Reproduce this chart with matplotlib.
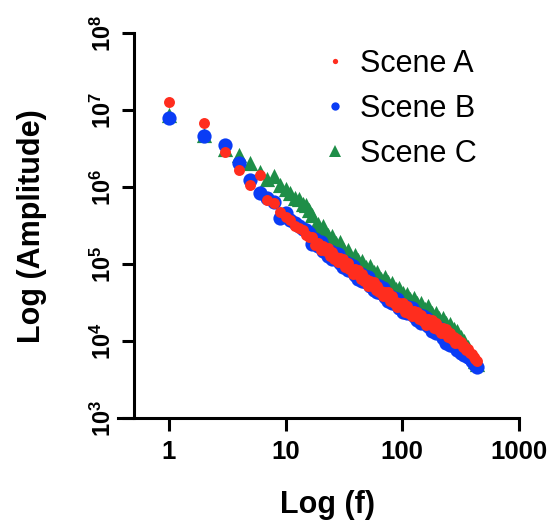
import matplotlib
matplotlib.use('Agg')
import matplotlib.pyplot as plt
from matplotlib.lines import Line2D
import numpy as np

# frequency (Hz) and log10(amplitude)
freq = [1, 2, 3, 4, 5, 6, 7, 8, 9, 10, 11, 12, 13, 14, 15, 16,
        17, 18, 19, 20, 21, 22, 23, 24, 25, 26, 27, 28, 29, 30, 31, 32,
        34, 35, 36, 38, 39, 41, 42, 44, 45, 47, 49, 51, 53, 55, 57, 59, 61, 63,
        66, 68, 71, 73, 76, 79, 82, 85, 88, 91, 94, 98, 101, 105, 109, 113, 117, 121,
        126, 130, 135, 140, 145, 150, 156, 161, 167, 173, 180, 186, 193, 200,
        207, 215, 222, 230, 239, 247, 256, 266, 275, 285, 296, 306, 318, 329,
        341, 353, 366, 380, 394, 408, 423, 438]

scene_a = [7.10, 6.83, 6.45, 6.22, 6.03, 6.16, 5.83, 5.79, 5.68, 5.61, 5.57, 5.50, 5.47, 5.44, 5.38, 5.35,
           5.35, 5.25, 5.27, 5.18, 5.24, 5.17, 5.21, 5.10, 5.16, 5.07, 5.09, 5.02, 5.08, 5.02, 5.07, 4.96,
           5.01, 4.93, 4.95, 4.87, 4.93, 4.87, 4.92, 4.80, 4.87, 4.78, 4.80, 4.72, 4.78, 4.72, 4.77, 4.66, 4.72, 4.64,
           4.65, 4.58, 4.64, 4.58, 4.63, 4.52, 4.58, 4.49, 4.51, 4.44, 4.50, 4.44, 4.49, 4.38, 4.45, 4.37, 4.39, 4.32,
           4.39, 4.33, 4.38, 4.28, 4.34, 4.26, 4.29, 4.21, 4.28, 4.23, 4.27, 4.17, 4.24, 4.15,
           4.18, 4.10, 4.17, 4.11, 4.15, 4.05, 4.11, 4.02, 4.05, 3.97, 4.03, 3.97, 3.99, 3.92,
           3.94, 3.88, 3.89, 3.84, 3.83, 3.79, 3.77, 3.74]

scene_b = [6.90, 6.66, 6.55, 6.31, 6.09, 5.92, 5.86, 5.80, 5.60, 5.66, 5.57, 5.53, 5.49, 5.46, 5.44, 5.40,
           5.26, 5.32, 5.24, 5.29, 5.17, 5.20, 5.10, 5.17, 5.07, 5.14, 5.06, 5.13, 5.01, 5.05, 4.96, 5.03,
           4.92, 5.00, 4.92, 4.98, 4.86, 4.90, 4.81, 4.87, 4.78, 4.85, 4.77, 4.83, 4.71, 4.75, 4.66, 4.73, 4.63, 4.71,
           4.62, 4.69, 4.57, 4.61, 4.52, 4.59, 4.49, 4.56, 4.48, 4.55, 4.43, 4.47, 4.38, 4.45, 4.36, 4.44, 4.36, 4.43,
           4.32, 4.36, 4.27, 4.34, 4.24, 4.32, 4.24, 4.30, 4.19, 4.23, 4.13, 4.21, 4.11, 4.18,
           4.11, 4.16, 4.04, 4.08, 3.98, 4.05, 3.95, 4.02, 3.94, 3.99, 3.88, 3.92, 3.85, 3.88,
           3.82, 3.84, 3.79, 3.78, 3.74, 3.72, 3.69, 3.66]

scene_c = [6.93, 6.68, 6.50, 6.42, 6.31, 6.20, 6.10, 6.14, 6.02, 5.97, 5.92, 5.86, 5.85, 5.78, 5.76, 5.70,
           5.63, 5.49, 5.52, 5.39, 5.49, 5.36, 5.38, 5.27, 5.36, 5.23, 5.27, 5.17, 5.28, 5.16, 5.20, 5.10,
           5.18, 5.07, 5.11, 5.01, 5.12, 5.01, 5.05, 4.94, 5.04, 4.92, 4.96, 4.86, 4.97, 4.86, 4.90, 4.80, 4.89, 4.78,
           4.81, 4.72, 4.83, 4.72, 4.76, 4.66, 4.75, 4.63, 4.67, 4.58, 4.69, 4.58, 4.62, 4.52, 4.61, 4.50, 4.54, 4.45,
           4.56, 4.46, 4.49, 4.40, 4.49, 4.38, 4.42, 4.33, 4.45, 4.34, 4.37, 4.28, 4.37, 4.26,
           4.30, 4.20, 4.30, 4.20, 4.23, 4.14, 4.22, 4.12, 4.15, 4.07, 4.13, 4.04, 4.05, 3.98,
           4.00, 3.93, 3.92, 3.86, 3.82, 3.78, 3.74, 3.70]

series_names = ['Scene A', 'Scene B', 'Scene C']
x_ticks = [1, 10, 100, 1000]
x_labels = ['1', '10', '100', '1000']
y_ticks = [1e3, 1e4, 1e5, 1e6, 1e7, 1e8]
y_labels = [r'$\mathbf{10^{3}}$', r'$\mathbf{10^{4}}$', r'$\mathbf{10^{5}}$',
            r'$\mathbf{10^{6}}$', r'$\mathbf{10^{7}}$', r'$\mathbf{10^{8}}$']

red = '#ff2d1e'
blue = '#0a3cf5'
green = '#1e8e48'

plt.rcParams['font.family'] = ['Liberation Sans', 'DejaVu Sans']
plt.rcParams['mathtext.fontset'] = 'custom'
plt.rcParams['mathtext.rm'] = 'Liberation Sans:bold'
plt.rcParams['mathtext.bf'] = 'Liberation Sans:bold'

fig = plt.figure(figsize=(5.55, 5.24), dpi=100)
ax = fig.add_axes([118/555, 106/524, 401/555, 385/524])

f = np.array(freq)
ax.scatter(f, 10**np.array(scene_c), marker='^', s=120, color=green, linewidths=0, zorder=2)
ax.scatter(f, 10**np.array(scene_b), marker='o', s=105, color=blue, linewidths=0, zorder=3)
ax.scatter(f, 10**np.array(scene_a), marker='o', s=62, color=red, linewidths=0, zorder=4)

# spine placement first, it resets the tick setup
for s in ['top', 'right']:
    ax.spines[s].set_visible(False)
ax.spines['left'].set_position(('data', 0.5))
ax.spines['left'].set_linewidth(2.2)
ax.spines['bottom'].set_linewidth(2.2)

ax.set_xscale('log')
ax.set_yscale('log')
ax.set_xlim(0.367, 1000)
ax.set_ylim(1e3, 1e8)
ax.set_xticks(x_ticks)
ax.set_xticklabels(x_labels, fontsize=18.5, fontweight='bold')
ax.set_yticks(y_ticks)
ax.set_yticklabels(y_labels, fontsize=17, rotation=90, va='center')
ax.minorticks_off()

ax.tick_params(axis='both', width=2.2, length=9, direction='out')
ax.tick_params(axis='x', pad=7)
ax.tick_params(axis='y', pad=4)

fig.text(32/555, 1 - 226/524, 'Log (Amplitude)', rotation=90, fontsize=22,
         fontweight='bold', ha='center', va='center')
fig.text(328/555, 1 - 505/524, 'Log (f)', fontsize=22, fontweight='bold',
         ha='center', va='center')

handles = [Line2D([], [], ls='', marker='o', color=red, markersize=3.8, markeredgewidth=0),
           Line2D([], [], ls='', marker='o', color=blue, markersize=6, markeredgewidth=0),
           Line2D([], [], ls='', marker='^', color=green, markersize=8, markeredgewidth=0)]
fig.legend(handles, series_names, loc='upper left', bbox_to_anchor=(323/555, 1 - 49/524),
           frameon=False, fontsize=22, borderpad=0, borderaxespad=0,
           handlelength=0.8, handletextpad=0.42, labelspacing=0.49)

fig.savefig('out.png', dpi=100)
